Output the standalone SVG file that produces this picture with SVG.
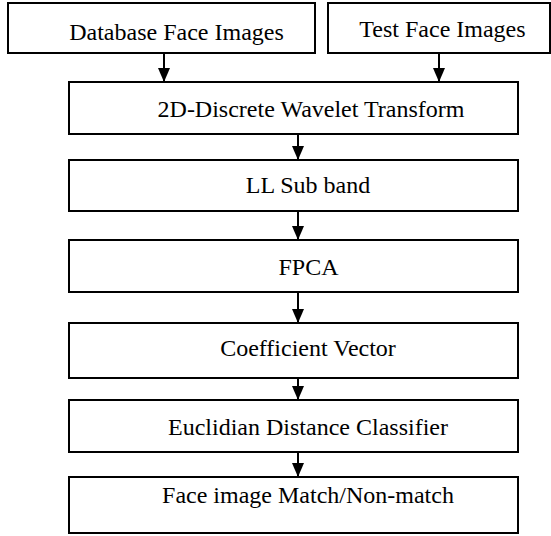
<svg xmlns="http://www.w3.org/2000/svg" width="551" height="536" viewBox="0 0 551 536">
  <style>
    .box { fill: #ffffff; stroke: #000000; stroke-width: 2; }
    .lbl { font-family: "Liberation Serif", "Times New Roman", serif; font-size: 24px; fill: #000000; text-anchor: middle; }
    .link { stroke: #000000; stroke-width: 2; fill: none; marker-end: url(#head); }
  </style>
  <defs>
    <marker id="head" viewBox="0 0 14 12" refX="14" refY="6" markerWidth="14" markerHeight="12" markerUnits="userSpaceOnUse" orient="auto">
      <path d="M0,0 L14,6 L0,12 Z" fill="#000000"/>
    </marker>
  </defs>
  <rect width="551" height="536" fill="#ffffff"/>

  <g id="database-images">
    <rect class="box" x="8" y="3" width="307" height="50"/>
    <text class="lbl" x="176.5" y="40">Database Face Images</text>
  </g>
  <g id="test-images">
    <rect class="box" x="328" y="3" width="222" height="50"/>
    <text class="lbl" x="442.5" y="37">Test Face Images</text>
  </g>
  <g id="dwt">
    <rect class="box" x="69" y="82" width="449" height="52"/>
    <text class="lbl" x="311" y="117">2D-Discrete Wavelet Transform</text>
  </g>
  <g id="ll-subband">
    <rect class="box" x="69" y="160" width="449" height="51"/>
    <text class="lbl" x="308" y="193">LL Sub band</text>
  </g>
  <g id="fpca">
    <rect class="box" x="69" y="240" width="449" height="52"/>
    <text class="lbl" x="308.5" y="275">FPCA</text>
  </g>
  <g id="coefficient-vector">
    <rect class="box" x="69" y="323" width="449" height="55"/>
    <text class="lbl" x="308" y="356">Coefficient Vector</text>
  </g>
  <g id="classifier">
    <rect class="box" x="69" y="400" width="449" height="52"/>
    <text class="lbl" x="308" y="435">Euclidian Distance Classifier</text>
  </g>
  <g id="match-result">
    <rect class="box" x="69" y="477" width="449" height="56"/>
    <text class="lbl" x="308" y="503">Face image Match/Non-match</text>
  </g>

  <g id="connectors">
    <line class="link" x1="164" y1="53" x2="164" y2="82"/>
    <line class="link" x1="439" y1="53" x2="439" y2="82"/>
    <line class="link" x1="298" y1="134" x2="298" y2="160"/>
    <line class="link" x1="298" y1="211" x2="298" y2="240"/>
    <line class="link" x1="298" y1="292" x2="298" y2="323"/>
    <line class="link" x1="298" y1="378" x2="298" y2="400"/>
    <line class="link" x1="298" y1="452" x2="298" y2="477"/>
  </g>
</svg>
